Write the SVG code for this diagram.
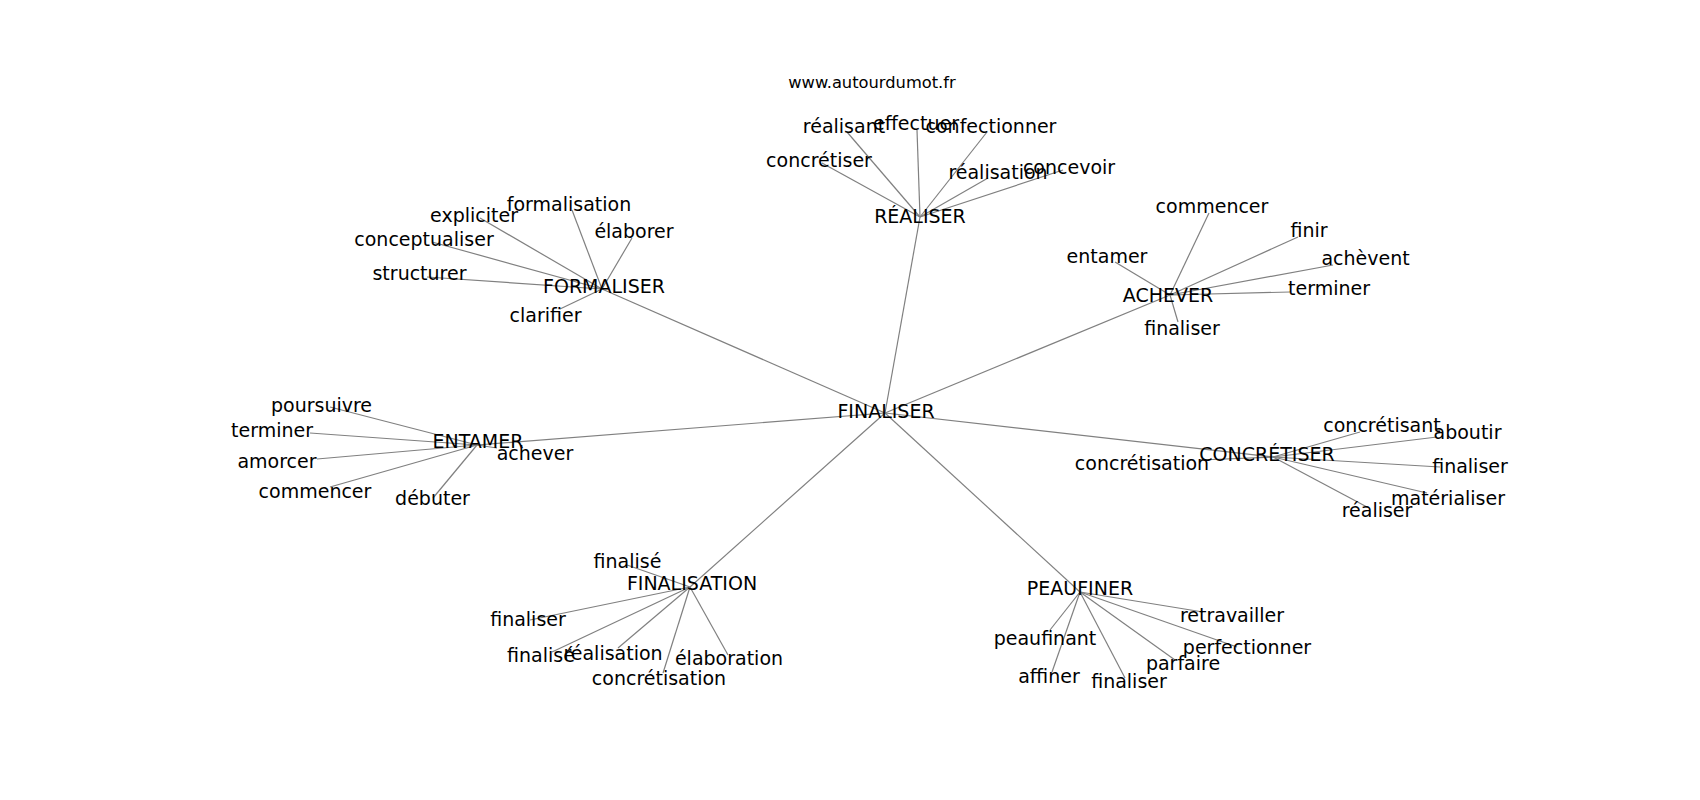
<svg xmlns="http://www.w3.org/2000/svg" width="1700" height="800" viewBox="0 0 1700 800">
<style>
  .bg{fill:#ffffff}
  .e line{stroke:#808080;stroke-width:1.2;fill:none}
  text{font-family:"DejaVu Sans","Liberation Sans",sans-serif;font-size:19px;fill:#000000;text-anchor:middle}
  .url{font-size:16.3px}
</style>
<rect class="bg" x="0" y="0" width="1700" height="800"/>
<g id="connectors" class="e">
  <line x1="885" y1="413" x2="920" y2="217"/>
  <line x1="885" y1="413" x2="602" y2="289"/>
  <line x1="885" y1="413" x2="1170" y2="295"/>
  <line x1="885" y1="413" x2="477" y2="445"/>
  <line x1="885" y1="413" x2="1273" y2="457"/>
  <line x1="885" y1="413" x2="690" y2="587"/>
  <line x1="885" y1="413" x2="1080" y2="592"/>
  <line x1="920" y1="217" x2="847" y2="132"/>
  <line x1="920" y1="217" x2="917" y2="130"/>
  <line x1="920" y1="217" x2="987" y2="132"/>
  <line x1="920" y1="217" x2="822" y2="163"/>
  <line x1="920" y1="217" x2="988" y2="178"/>
  <line x1="920" y1="217" x2="1063" y2="170"/>
  <line x1="602" y1="289" x2="572" y2="210"/>
  <line x1="602" y1="289" x2="480" y2="218"/>
  <line x1="602" y1="289" x2="632" y2="238"/>
  <line x1="602" y1="289" x2="432" y2="242"/>
  <line x1="602" y1="289" x2="427" y2="277"/>
  <line x1="602" y1="289" x2="560" y2="309"/>
  <line x1="1170" y1="295" x2="1209" y2="213"/>
  <line x1="1170" y1="295" x2="1298" y2="237"/>
  <line x1="1170" y1="295" x2="1115" y2="262"/>
  <line x1="1170" y1="295" x2="1333" y2="265"/>
  <line x1="1170" y1="295" x2="1290" y2="292"/>
  <line x1="1170" y1="295" x2="1178" y2="322"/>
  <line x1="477" y1="445" x2="330" y2="407"/>
  <line x1="477" y1="445" x2="310" y2="433"/>
  <line x1="477" y1="445" x2="317" y2="459"/>
  <line x1="477" y1="445" x2="330" y2="487"/>
  <line x1="477" y1="445" x2="433" y2="498"/>
  <line x1="477" y1="445" x2="497" y2="448"/>
  <line x1="1273" y1="457" x2="1360" y2="432"/>
  <line x1="1273" y1="457" x2="1437" y2="437"/>
  <line x1="1273" y1="457" x2="1200" y2="460"/>
  <line x1="1273" y1="457" x2="1440" y2="467"/>
  <line x1="1273" y1="457" x2="1427" y2="493"/>
  <line x1="1273" y1="457" x2="1367" y2="507"/>
  <line x1="690" y1="587" x2="627" y2="565"/>
  <line x1="690" y1="587" x2="530" y2="620"/>
  <line x1="690" y1="587" x2="552" y2="652"/>
  <line x1="690" y1="587" x2="618" y2="648"/>
  <line x1="690" y1="587" x2="663" y2="673"/>
  <line x1="690" y1="587" x2="728" y2="655"/>
  <line x1="1080" y1="592" x2="1203" y2="612"/>
  <line x1="1080" y1="592" x2="1237" y2="647"/>
  <line x1="1080" y1="592" x2="1050" y2="630"/>
  <line x1="1080" y1="592" x2="1052" y2="672"/>
  <line x1="1080" y1="592" x2="1125" y2="678"/>
  <line x1="1080" y1="592" x2="1175" y2="660"/>
</g>
<g id="url"><text class="url" x="872" y="88">www.autourdumot.fr</text></g>
<g id="n-finaliser"><text x="886" y="418">FINALISER</text></g>
<g id="n-realiser"><text x="920" y="223">RÉALISER</text></g>
<g id="n-realiser-realisant"><text x="844" y="133">réalisant</text></g>
<g id="n-realiser-effectuer"><text x="916" y="130">effectuer</text></g>
<g id="n-realiser-confectionner"><text x="991" y="133">confectionner</text></g>
<g id="n-realiser-concretiser"><text x="819" y="167">concrétiser</text></g>
<g id="n-realiser-realisation"><text x="998" y="179">réalisation</text></g>
<g id="n-realiser-concevoir"><text x="1069" y="174">concevoir</text></g>
<g id="n-formaliser"><text x="604" y="293">FORMALISER</text></g>
<g id="n-formaliser-formalisation"><text x="569" y="211">formalisation</text></g>
<g id="n-formaliser-expliciter"><text x="474" y="222">expliciter</text></g>
<g id="n-formaliser-elaborer"><text x="634" y="238">élaborer</text></g>
<g id="n-formaliser-conceptualiser"><text x="424" y="246">conceptualiser</text></g>
<g id="n-formaliser-structurer"><text x="419.5" y="280">structurer</text></g>
<g id="n-formaliser-clarifier"><text x="545.5" y="322">clarifier</text></g>
<g id="n-achever"><text x="1168" y="302">ACHEVER</text></g>
<g id="n-achever-commencer"><text x="1212" y="213">commencer</text></g>
<g id="n-achever-finir"><text x="1309" y="237">finir</text></g>
<g id="n-achever-entamer"><text x="1107" y="263">entamer</text></g>
<g id="n-achever-achevent"><text x="1365.5" y="265">achèvent</text></g>
<g id="n-achever-terminer"><text x="1329" y="295">terminer</text></g>
<g id="n-achever-finaliser"><text x="1182" y="335">finaliser</text></g>
<g id="n-entamer"><text x="478" y="448">ENTAMER</text></g>
<g id="n-entamer-poursuivre"><text x="321.5" y="412">poursuivre</text></g>
<g id="n-entamer-terminer"><text x="272" y="437">terminer</text></g>
<g id="n-entamer-amorcer"><text x="277" y="468">amorcer</text></g>
<g id="n-entamer-commencer"><text x="315" y="498">commencer</text></g>
<g id="n-entamer-debuter"><text x="432.5" y="505">débuter</text></g>
<g id="n-entamer-achever"><text x="535" y="460">achever</text></g>
<g id="n-concretiser"><text x="1267" y="461">CONCRÉTISER</text></g>
<g id="n-concretiser-concretisant"><text x="1382" y="432">concrétisant</text></g>
<g id="n-concretiser-aboutir"><text x="1467.5" y="439">aboutir</text></g>
<g id="n-concretiser-concretisation"><text x="1142" y="470">concrétisation</text></g>
<g id="n-concretiser-finaliser"><text x="1470" y="473">finaliser</text></g>
<g id="n-concretiser-materialiser"><text x="1448" y="505">matérialiser</text></g>
<g id="n-concretiser-realiser"><text x="1377" y="517">réaliser</text></g>
<g id="n-finalisation"><text x="692" y="590">FINALISATION</text></g>
<g id="n-finalisation-finalise1"><text x="627.5" y="568">finalisé</text></g>
<g id="n-finalisation-finaliser"><text x="528" y="626">finaliser</text></g>
<g id="n-finalisation-finalise2"><text x="541" y="662">finalisé</text></g>
<g id="n-finalisation-realisation"><text x="613" y="660">réalisation</text></g>
<g id="n-finalisation-concretisation"><text x="659" y="685">concrétisation</text></g>
<g id="n-finalisation-elaboration"><text x="729" y="665">élaboration</text></g>
<g id="n-peaufiner"><text x="1080" y="595">PEAUFINER</text></g>
<g id="n-peaufiner-retravailler"><text x="1232" y="622">retravailler</text></g>
<g id="n-peaufiner-perfectionner"><text x="1247" y="654">perfectionner</text></g>
<g id="n-peaufiner-peaufinant"><text x="1045" y="645">peaufinant</text></g>
<g id="n-peaufiner-affiner"><text x="1049" y="683">affiner</text></g>
<g id="n-peaufiner-finaliser"><text x="1129" y="688">finaliser</text></g>
<g id="n-peaufiner-parfaire"><text x="1183" y="670">parfaire</text></g>
</svg>
